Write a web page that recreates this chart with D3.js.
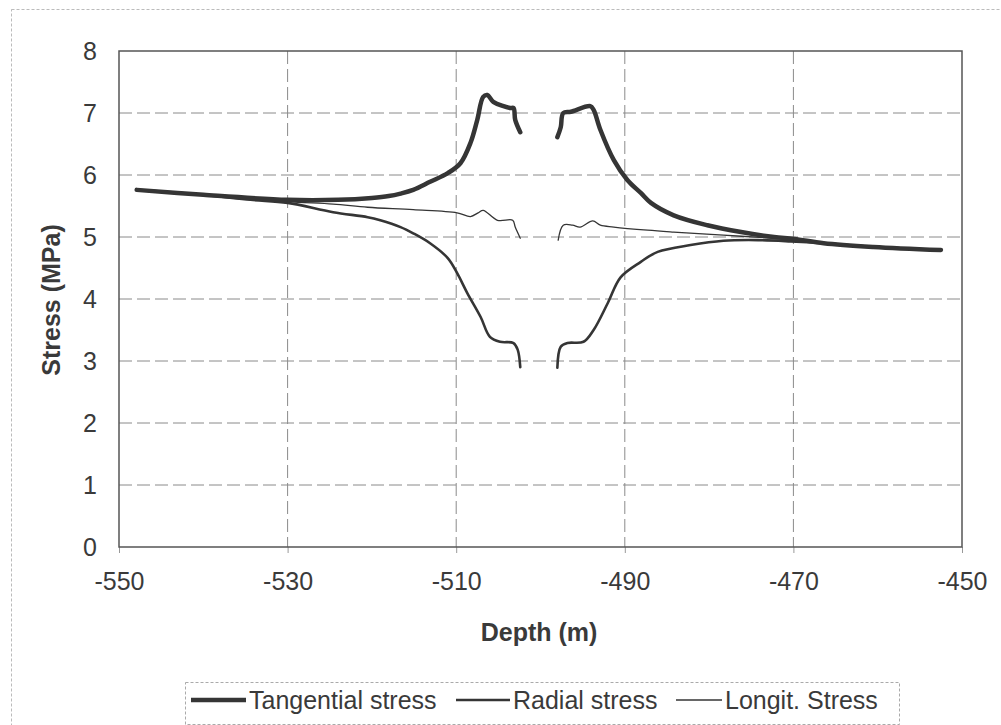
<!DOCTYPE html>
<html>
<head>
<meta charset="utf-8">
<script src="https://cdn.jsdelivr.net/npm/d3@7/dist/d3.min.js"></script>
<style>
  body { margin: 0; background: #fff; }
  svg { display: block; font-family: "Liberation Sans", Arial, sans-serif; }
  .tick text { fill: #3a3a3a; font-size: 25px; }
</style>
</head>
<body>
<div id="chart"></div>
<script>
var width = 1001,
    height = 725;

var margin = {left: 119, top: 51, right: 39, bottom: 178};

var xTicks = [-550, -530, -510, -490, -470, -450],
    yTicks = [0, 1, 2, 3, 4, 5, 6, 7, 8];

var seriesNames = ["Tangential stress", "Radial stress", "Longit. Stress"];

// depth (m), stress (MPa); null marks the gap round the opening
var tangential = [
  [-547.9, 5.76], [-540, 5.68], [-530, 5.6], [-524, 5.6], [-520, 5.63], [-518, 5.66],
  [-516.6, 5.7], [-515.1, 5.76], [-513.1, 5.89], [-511, 6.03], [-509.5, 6.19],
  [-508.3, 6.52], [-507.5, 6.89], [-506.8, 7.26], [-506.3, 7.29], [-505.6, 7.18],
  [-503.6, 7.08], [-503.2, 7.08], [-503, 6.89], [-502.4, 6.69],
  null,
  [-498, 6.61], [-497.6, 6.77], [-497.3, 7.0], [-496.4, 7.02], [-494.1, 7.11],
  [-493.7, 7.05], [-492.9, 6.73], [-491.3, 6.24], [-489.7, 5.92], [-488.1, 5.71],
  [-486.9, 5.55], [-484.2, 5.35], [-480.2, 5.19], [-476.2, 5.08], [-472.3, 5.0],
  [-469.9, 4.97], [-466.4, 4.9], [-460.5, 4.84], [-452.5, 4.79]
];

var radial = [
  [-547.9, 5.76], [-540, 5.68], [-534.4, 5.6], [-530, 5.55], [-524.6, 5.4],
  [-520.5, 5.32], [-519, 5.27], [-516.6, 5.16], [-515.1, 5.06], [-513.1, 4.9],
  [-511, 4.66], [-509.9, 4.42], [-508.7, 4.1], [-507.1, 3.71], [-506, 3.39],
  [-504.8, 3.31], [-503.2, 3.29], [-502.7, 3.18], [-502.4, 2.9],
  null,
  [-498, 2.89], [-497.6, 3.23], [-496.8, 3.29], [-494.9, 3.31], [-493.7, 3.5],
  [-492, 3.94], [-490.5, 4.35], [-488.1, 4.6], [-486.1, 4.76], [-482.2, 4.87],
  [-478.3, 4.94], [-474.2, 4.95], [-470.3, 4.93], [-466.4, 4.9], [-460.5, 4.84],
  [-452.5, 4.79]
];

var longit = [
  [-547.9, 5.76], [-540, 5.68], [-530, 5.57], [-524.6, 5.53], [-520.5, 5.48],
  [-515.1, 5.44], [-509.9, 5.39], [-508.3, 5.33], [-507.4, 5.39], [-506.8, 5.43],
  [-505.1, 5.27], [-503.3, 5.27], [-503, 5.16], [-502.4, 4.98],
  null,
  [-497.9, 4.95], [-497.3, 5.19], [-496.2, 5.19], [-495.3, 5.16], [-493.8, 5.26],
  [-492.9, 5.19], [-491.3, 5.16], [-487.3, 5.11], [-484.2, 5.08], [-478.3, 5.03],
  [-472.3, 4.98], [-469.9, 4.96], [-466.4, 4.9], [-460.5, 4.84], [-452.5, 4.79]
];

var lineWidths = [4.5, 2.6, 1.3];

var svg = d3.select("#chart").append("svg")
    .attr("width", width)
    .attr("height", height);

// outer chart border
svg.append("rect")
    .attr("x", 11.5).attr("y", 9.5)
    .attr("width", width).attr("height", height)
    .attr("fill", "none")
    .attr("stroke", "#bbb")
    .attr("stroke-dasharray", "3,2");

var w = width - margin.left - margin.right,
    h = height - margin.top - margin.bottom;

var x = d3.scaleLinear().domain([-550, -450]).range([0, w]);
var y = d3.scaleLinear().domain([0, 8]).range([h, 0]);

var g = svg.append("g")
    .attr("transform", "translate(" + margin.left + "," + margin.top + ")");

// grid
g.append("g").selectAll("line")
    .data(yTicks.slice(1, -1))
  .enter().append("line")
    .attr("x1", 0).attr("x2", w)
    .attr("y1", function(d) { return y(d); })
    .attr("y2", function(d) { return y(d); })
    .attr("stroke", "#8a8a8a")
    .attr("stroke-dasharray", "13,5");

g.append("g").selectAll("line")
    .data(xTicks.slice(1, -1))
  .enter().append("line")
    .attr("y1", 0).attr("y2", h)
    .attr("x1", function(d) { return x(d); })
    .attr("x2", function(d) { return x(d); })
    .attr("stroke", "#8a8a8a")
    .attr("stroke-dasharray", "13,5");

// axes
var xAxis = d3.axisBottom(x).tickValues(xTicks).tickSize(6).tickPadding(19)
    .tickFormat(function(d) { return String(d); });
var yAxis = d3.axisLeft(y).tickValues(yTicks).tickSize(0).tickPadding(22);

g.append("g")
    .attr("transform", "translate(0," + h + ")")
    .call(xAxis)
    .call(function(a) {
      a.select(".domain").remove();
      a.selectAll(".tick line").attr("stroke", "#999");
    });

g.append("g")
    .call(yAxis)
    .call(function(a) { a.select(".domain").remove(); });

g.append("rect")
    .attr("width", w).attr("height", h)
    .attr("fill", "none")
    .attr("stroke", "#555")
    .attr("stroke-width", 1.5);

// series
var line = d3.line()
    .defined(function(d) { return d !== null; })
    .x(function(d) { return x(d[0]); })
    .y(function(d) { return y(d[1]); })
    .curve(d3.curveCatmullRom.alpha(0.5));

[longit, radial, tangential].forEach(function(s, i) {
  g.append("path")
      .datum(s)
      .attr("d", line)
      .attr("fill", "none")
      .attr("stroke", "#353535")
      .attr("stroke-width", lineWidths[2 - i])
      .attr("stroke-linejoin", "round")
      .attr("stroke-linecap", "round");
});

// axis titles
svg.append("text")
    .attr("x", 539).attr("y", 641)
    .attr("text-anchor", "middle")
    .attr("font-size", 25).attr("font-weight", "bold")
    .attr("fill", "#3a3a3a")
    .text("Depth (m)");

svg.append("text")
    .attr("transform", "translate(60,300) rotate(-90)")
    .attr("text-anchor", "middle")
    .attr("font-size", 25).attr("font-weight", "bold")
    .attr("fill", "#3a3a3a")
    .text("Stress (MPa)");

// legend
var legend = svg.append("g");
legend.append("rect")
    .attr("x", 185.5).attr("y", 682.5)
    .attr("width", 714).attr("height", 42)
    .attr("fill", "#fff")
    .attr("stroke", "#aaa")
    .attr("stroke-dasharray", "3,2");

var legendX = [191, 456, 676],
    legendLen = [55, 54, 46];

seriesNames.forEach(function(name, i) {
  legend.append("line")
      .attr("x1", legendX[i]).attr("x2", legendX[i] + legendLen[i])
      .attr("y1", 700).attr("y2", 700)
      .attr("stroke", "#353535")
      .attr("stroke-width", lineWidths[i]);
  legend.append("text")
      .attr("x", legendX[i] + legendLen[i] + 3)
      .attr("y", 709)
      .attr("font-size", 25)
      .attr("fill", "#3a3a3a")
      .text(name);
});
</script>
</body>
</html>
